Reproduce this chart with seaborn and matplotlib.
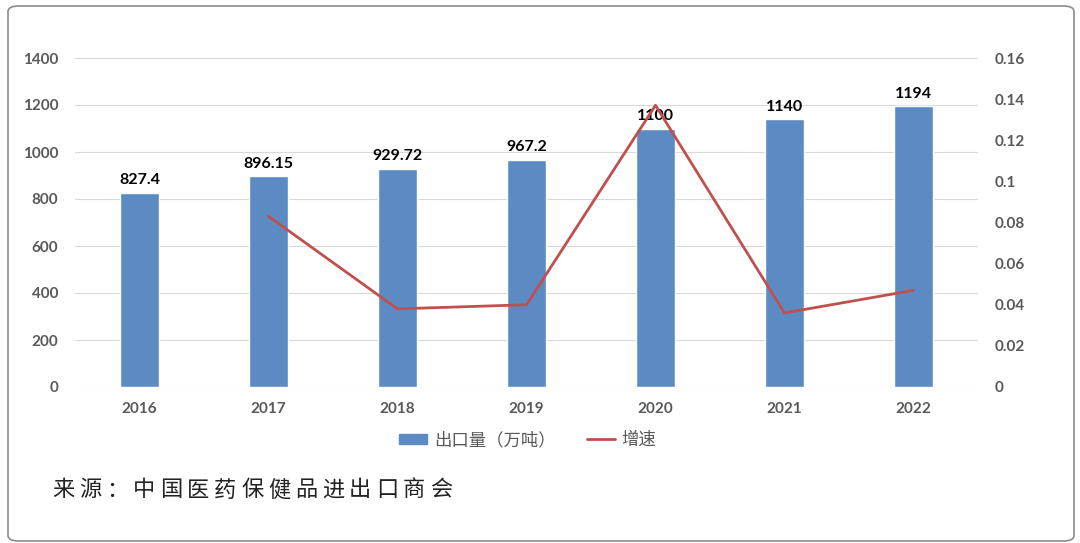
import matplotlib
matplotlib.use("Agg")
import matplotlib.pyplot as plt
import seaborn as sns
import numpy as np
import pandas as pd
from matplotlib.patches import FancyBboxPatch, Patch
from matplotlib.lines import Line2D

years = ["2016", "2017", "2018", "2019", "2020", "2021", "2022"]
export_volume = [827.4, 896.15, 929.72, 967.2, 1100, 1140, 1194]
volume_labels = ["827.4", "896.15", "929.72", "967.2", "1100", "1140", "1194"]
growth_years = ["2017", "2018", "2019", "2020", "2021", "2022"]
growth_rate = [0.083, 0.038, 0.040, 0.137, 0.036, 0.047]
left_ticks = [0, 200, 400, 600, 800, 1000, 1200, 1400]
right_ticks = [0, 0.02, 0.04, 0.06, 0.08, 0.1, 0.12, 0.14, 0.16]
bar_name = "出口量（万吨）"
line_name = "增速"
source_text = "来源：中国医药保健品进出口商会"

sns.set_theme(style="white")
plt.rcParams['font.family'] = ['Noto Sans CJK SC', 'DejaVu Sans']

BLUE = "#5B8BC2"
RED = "#C0504D"
GRAY = "#595959"
NUMFONT = ['Lato', 'DejaVu Sans']

fig = plt.figure(figsize=(10.8, 5.43), dpi=100)
ax = fig.add_axes([75/1080, 1-387/543, (978-75)/1080, (387-58)/543])

df = pd.DataFrame({"year": years, "volume": export_volume})
sns.barplot(data=df, x="year", y="volume", color=BLUE, saturation=1, width=0.31, ax=ax, zorder=2)
ax.set_ylim(0, 1400)
ax.set_yticks(left_ticks)
ax.set_yticklabels([str(t) for t in left_ticks])
ax.yaxis.grid(True, color="#D9D9D9", linewidth=0.8, zorder=0)
ax.set_axisbelow(True)
ax.set_xlabel("")
ax.set_ylabel("")
for s in ax.spines.values():
    s.set_visible(False)
ax.tick_params(axis="both", length=0, labelcolor=GRAY, labelsize=11)
ax.tick_params(axis="y", pad=12)
ax.tick_params(axis="x", pad=11)
for lab in ax.get_xticklabels() + ax.get_yticklabels():
    lab.set_fontweight("bold")
    lab.set_family(NUMFONT)

ax.bar_label(ax.containers[0], labels=volume_labels, padding=4, fontsize=11.5,
             fontweight="bold", color="black", family=NUMFONT)

ax2 = ax.twinx()
pos = [years.index(y) for y in growth_years]
gdf = pd.DataFrame({"pos": pos, "growth": growth_rate})
sns.lineplot(data=gdf, x="pos", y="growth", color=RED, linewidth=2, ax=ax2, zorder=3)
ax2.set_ylim(0, 0.16)
ax2.set_yticks(right_ticks)
ax2.set_yticklabels([f"{t:g}" for t in right_ticks])
ax2.set_ylabel("")
ax2.set_xlim(-0.5, len(years) - 0.5)
ax.set_xlim(-0.5, len(years) - 0.5)
for s in ax2.spines.values():
    s.set_visible(False)
ax2.tick_params(axis="y", length=0, labelcolor=GRAY, labelsize=11, pad=12)
for lab in ax2.get_yticklabels():
    lab.set_fontweight("bold")
    lab.set_family(NUMFONT)
ax2.grid(False)

handles = [Patch(facecolor=BLUE, edgecolor=BLUE), Line2D([0], [0], color=RED, linewidth=2)]
fig.legend(handles, [bar_name, line_name], loc="center", bbox_to_anchor=(528/1080, 1-440/543),
           ncol=2, frameon=False, fontsize=12.5, labelcolor=GRAY, handlelength=1.6,
           handleheight=0.55, columnspacing=1.8, handletextpad=0.4)

# source text, one character at a time for wide spacing
x0 = 52
step = 27.0
for i, ch in enumerate(source_text):
    fig.text((x0 + i * step) / 1080, 1 - 490/543, ch, fontsize=16, color="#222222",
             ha="left", va="center", family=['Noto Sans CJK SC', 'DejaVu Sans'])

border = FancyBboxPatch((8/1080, 2/543), (1074-8)/1080, (537-2)/543,
                        boxstyle="round,pad=0,rounding_size=0.01", transform=fig.transFigure,
                        facecolor="none", edgecolor="#8C8C8C", linewidth=1.2)
fig.patches.append(border)

fig.savefig("out.png", dpi=100)
